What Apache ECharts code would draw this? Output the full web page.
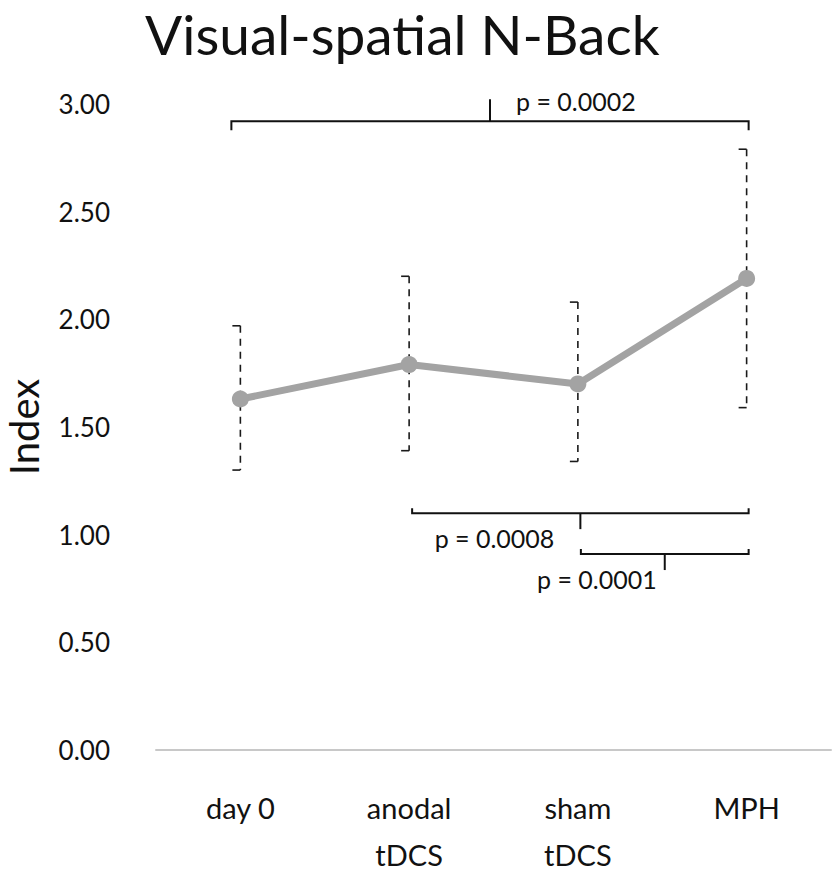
<!DOCTYPE html>
<html>
<head>
<meta charset="utf-8">
<script src="https://cdn.jsdelivr.net/npm/echarts@6/dist/echarts.min.js"></script>
<style>
  html, body { margin: 0; padding: 0; background: #fff; }
  #chart { width: 839px; height: 873px; }
</style>
</head>
<body>
<div id="chart"></div>
<script>
// ====== Visual-spatial N-Back ======
var categories = ['day 0', 'anodal\ntDCS', 'sham\ntDCS', 'MPH'];
var means = [1.63, 1.79, 1.70, 2.19];
var lows = [1.30, 1.39, 1.34, 1.59];
var highs = [1.97, 2.20, 2.08, 2.79];
var yTicks = [0, 0.5, 1, 1.5, 2, 2.5, 3];

// brackets: [from category, to category, y value, p label]
var brackets = [
  [0, 3, 2.92, 'p = 0.0002'],
  [1, 3, 1.10, 'p = 0.0008'],
  [2, 3, 0.91, 'p = 0.0001']
];

(function() {
  var font = 'Lato, "Open Sans", sans-serif';
  var chart = echarts.init(document.getElementById('chart'), null, { renderer: 'svg' });

  var errData = means.map(function(m, i) { return [i, lows[i], highs[i]]; });
  // label gap from the centre tick, per bracket
  var labelGap = [26, 26, 8];

  chart.setOption({
    animation: false,
    title: {
      text: 'Visual-spatial N-Back',
      left: 140,
      top: 1,
      textStyle: { fontFamily: font, fontSize: 55, fontWeight: 'normal', color: '#111' }
    },
    grid: { left: 156, right: 8, top: 104, bottom: 123, outerBoundsMode: 'none' },
    xAxis: {
      type: 'category',
      data: categories,
      boundaryGap: true,
      axisLine: { lineStyle: { color: '#c8c8c8', width: 2 } },
      axisTick: { show: false },
      axisLabel: { fontFamily: font, fontSize: 29, color: '#111', margin: 34, lineHeight: 47 }
    },
    yAxis: {
      type: 'value',
      min: yTicks[0], max: yTicks[yTicks.length - 1], interval: 0.5,
      name: 'Index',
      nameLocation: 'middle',
      nameGap: 112,
      nameRotate: 90,
      nameTextStyle: { fontFamily: font, fontSize: 40, color: '#111' },
      axisLine: { show: false },
      axisTick: { show: false },
      splitLine: { show: false },
      axisLabel: {
        fontFamily: font, fontSize: 26, color: '#111', margin: 46,
        formatter: function(v) { return v.toFixed(2); }
      }
    },
    series: [
      {
        type: 'custom',
        name: 'error',
        data: errData,
        z: 1,
        renderItem: function(params, api) {
          var top = api.coord([api.value(0), api.value(2)]);
          var bot = api.coord([api.value(0), api.value(1)]);
          var st = { stroke: '#1a1a1a', lineWidth: 1.6 };
          return {
            type: 'group',
            children: [
              { type: 'line', shape: { x1: top[0], y1: top[1], x2: bot[0], y2: bot[1] },
                style: { stroke: '#1a1a1a', lineWidth: 1.6, lineDash: [7, 6] } },
              { type: 'line', shape: { x1: top[0] - 8, y1: top[1], x2: top[0], y2: top[1] }, style: st },
              { type: 'line', shape: { x1: bot[0] - 8, y1: bot[1], x2: bot[0], y2: bot[1] }, style: st }
            ]
          };
        }
      },
      {
        type: 'line',
        name: 'mean',
        data: means,
        z: 3,
        symbol: 'circle',
        symbolSize: 17,
        lineStyle: { color: '#a3a3a3', width: 7 },
        itemStyle: { color: '#a3a3a3' }
      },
      {
        type: 'custom',
        name: 'brackets',
        data: brackets.map(function(b) { return [b[0], b[1], b[2]]; }),
        z: 4,
        renderItem: function(params, api) {
          var b = brackets[params.dataIndex];
          var up = params.dataIndex === 0;
          var a = api.coord([api.value(0), api.value(2)]);
          var c = api.coord([api.value(1), api.value(2)]);
          var x1 = a[0] + (up ? -9 : 3), x2 = c[0] + 2, y = a[1];
          var mid = (x1 + x2) / 2;
          var endDy = up ? 9 : -5;
          var midDy = up ? -22 : 16;
          var gap = labelGap[params.dataIndex];
          var st = { stroke: '#111', lineWidth: 2 };
          var label = up
            ? { x: mid + gap, y: y - 20, align: 'left' }
            : { x: mid - gap, y: y + 25, align: 'right' };
          return {
            type: 'group',
            children: [
              { type: 'polyline', shape: { points: [[x1, y + endDy], [x1, y], [x2, y], [x2, y + endDy]] }, style: { stroke: '#111', lineWidth: 2, fill: null } },
              { type: 'line', shape: { x1: mid, y1: y, x2: mid, y2: y + midDy }, style: st },
              { type: 'text', x: label.x, y: label.y,
                style: { text: b[3], fontFamily: font, fontSize: 25, fill: '#111', align: label.align, verticalAlign: 'middle' } }
            ]
          };
        }
      }
    ]
  });
})();
</script>
</body>
</html>
